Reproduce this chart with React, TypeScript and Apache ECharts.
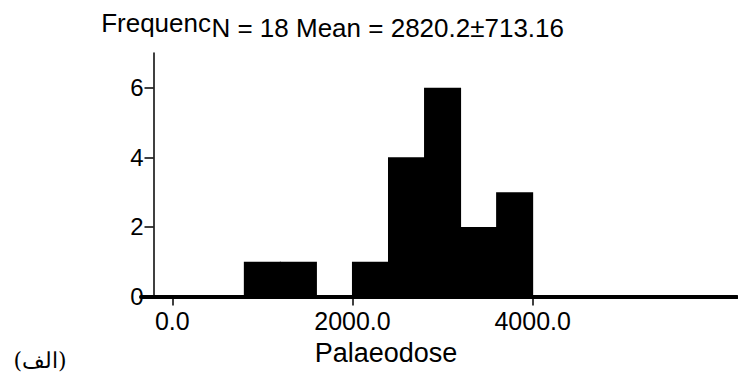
import React, { useEffect, useRef } from "react";
import * as echarts from "echarts";

const binStarts = [800, 1200, 2000, 2400, 2800, 3200, 3600];
const binEnds = [1200, 1600, 2400, 2800, 3200, 3600, 4000];
const counts = [1, 1, 1, 4, 6, 2, 3];
const xTicks = [0, 2000, 4000];
const yTicks = [0, 2, 4, 6];
const yAxisTitle = "Frequenc";
const statsText = "N = 18 Mean = 2820.2±713.16";
const xAxisTitle = "Palaeodose";
const panelLabel = "(الف)";

const FONT = "'Liberation Sans', Arial, Helvetica, sans-serif";
const NARROW = "'Liberation Sans Narrow', 'Arial Narrow', 'Liberation Sans', sans-serif";

export default function App() {
  const ref = useRef<HTMLDivElement>(null);
  useEffect(() => {
    if (!ref.current) return;
    const chart = echarts.init(ref.current, null, { renderer: "svg" });
    const data = binStarts.map((s, i) => [s, binEnds[i], counts[i]]);
    chart.setOption({
      animation: false,
      backgroundColor: "#fff",
      grid: { left: 141, top: 53, width: 596, height: 243.5, containLabel: false },
      xAxis: {
        type: "value",
        min: -347,
        max: 6268,
        splitLine: { show: false },
        axisLine: { show: true, onZero: true, lineStyle: { color: "#000", width: 4 } },
        axisTick: { show: true, customValues: xTicks, length: 9, lineStyle: { color: "#000", width: 1.5 } },
        axisLabel: {
          customValues: xTicks,
          formatter: (v: number) => v.toFixed(1),
          fontSize: 25,
          color: "#000",
          margin: 12,
          fontFamily: FONT,
        },
      },
      yAxis: {
        type: "value",
        min: 0,
        max: 7,
        offset: -12.5,
        splitLine: { show: false },
        axisLine: { show: true, onZero: false, lineStyle: { color: "#000", width: 1.5 } },
        axisTick: { show: true, customValues: yTicks, length: 9, lineStyle: { color: "#000", width: 1.5 } },
        axisLabel: {
          customValues: yTicks,
          formatter: (v: number) => String(v),
          fontSize: 24,
          color: "#000",
          margin: 10,
          fontFamily: FONT,
        },
      },
      series: [
        {
          type: "custom",
          data,
          encode: { x: [0, 1], y: 2 },
          renderItem: (params: any, api: any) => {
            const p0 = api.coord([api.value(0), api.value(2)]);
            const p1 = api.coord([api.value(1), 0]);
            return {
              type: "rect",
              shape: { x: p0[0] - 0.5, y: p0[1], width: p1[0] - p0[0] + 1, height: p1[1] - p0[1] },
              style: { fill: "#000" },
            };
          },
        },
      ],
      graphic: [
        {
          type: "text",
          x: 211,
          y: 23,
          style: { text: yAxisTitle, fontSize: 26, fontFamily: NARROW, fill: "#000", align: "right", verticalAlign: "middle" },
        },
        {
          type: "text",
          x: 564,
          y: 27.5,
          style: { text: statsText, fontSize: 26, fontFamily: FONT, fill: "#000", align: "right", verticalAlign: "middle" },
        },
        {
          type: "text",
          x: 386,
          y: 352.5,
          style: { text: xAxisTitle, fontSize: 27, fontFamily: FONT, fill: "#000", align: "center", verticalAlign: "middle" },
        },
        {
          type: "text",
          x: 40,
          y: 360,
          style: { text: panelLabel, fontSize: 22, fontFamily: "'DejaVu Serif', 'Liberation Serif', serif", fill: "#000", align: "center", verticalAlign: "middle" },
        },
      ],
    });
    return () => chart.dispose();
  }, []);
  return <div ref={ref} style={{ position: "fixed", left: 0, top: 0, width: 738, height: 372 }} />;
}
